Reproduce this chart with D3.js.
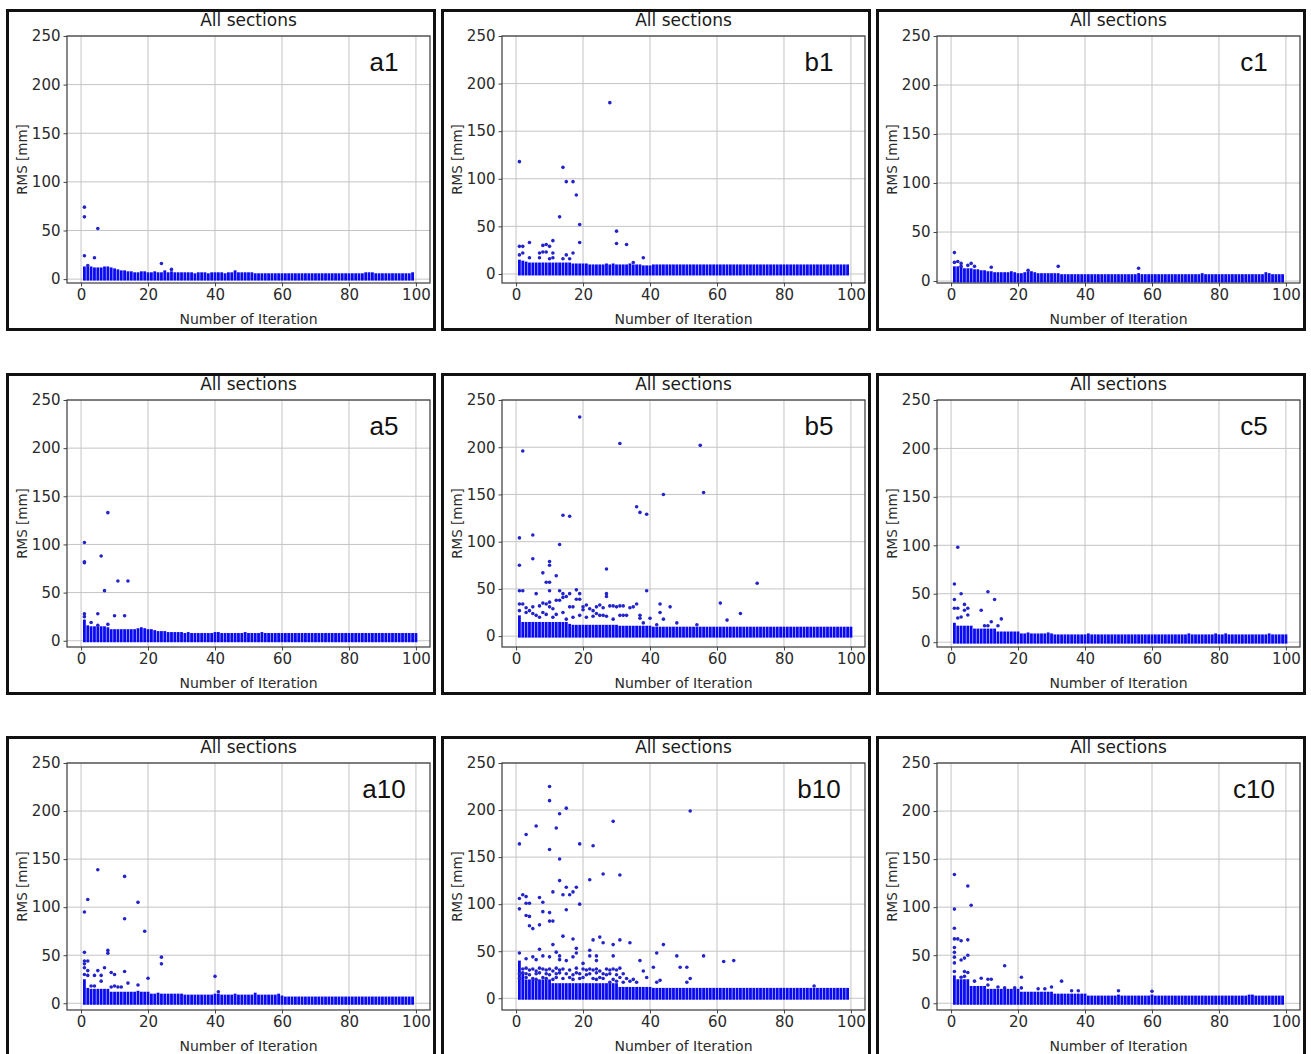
<!DOCTYPE html>
<html>
<head>
<meta charset="utf-8">
<script src="https://cdn.jsdelivr.net/npm/d3@7"></script>
<style>
body { margin: 0; background: #fff; }
text { font-family: "DejaVu Sans", sans-serif; }
</style>
</head>
<body>
<div id="chart"></div>
<script>
var xTicks = [0, 20, 40, 60, 80, 100];
var yTicks = [0, 50, 100, 150, 200, 250];
var panelNames = ["a1", "b1", "c1", "a5", "b5", "c5", "a10", "b10", "c10"];
var panelTitle = "All sections";
var xLabel = "Number of Iteration";
var yLabel = "RMS [mm]";

// lower y limit of every panel (matplotlib autoscaled bottom)
var axisFloor = [-4, -9.5, -2, -6.5, -11.5, -5, -7, -12.5, -7];

// top of the dense point band for iteration 1, 2, 3, ...
var bandA1 = [13,13,13,12,12,12,13,13,12,11, 10,9,9,8,8,7,7,8,8,7, 7,8,7,7,9,7,8,7,7,7,
  7,7,7,6,7,7,7,6,7,7, 7,7,6,7,7,9,7,7,7,7, 7,6,6,6,6,6,6,6,6,6, 6,6,6,6,6,6,6,6,6,6,
  6,6,6,6,6,6,6,6,6,6, 6,6,6,6,7,7,7,6,6,6, 6,6,6,6,6,6,6,6,7];
var bandB1 = [15,14,13,12,12,12,12,12,12,12, 12,12,12,12,12,12,11,11,11,11, 11,10,10,10,10,10,11,10,11,10,
  10,10,10,11,10,10,10,9,9,9, 10,10,10,10,10,10,10,10,10,10, 10,10,10,10,10,10,10,10,10,10,
  10,10,10,10,10,10,10,10,10,10, 10,10,10,10,10,10,10,10,10,10, 10,10,10,10,10,10,10,10,10,10,
  10,10,10,10,10,10,10,10,10];
var bandC1 = [15,15,15,13,13,13,12,12,11,11, 10,10,9,9,9,9,9,10,9,8, 8,9,10,10,9,8,8,8,8,8,
  8,8,7,7,7,7,7,7,7,7, 7,7,7,7,7,7,7,7,7,7, 7,7,7,7,7,8,7,7,7,7, 7,7,7,7,7,7,7,7,7,7,
  7,7,7,7,8,7,7,7,7,7, 7,7,7,7,7,7,7,7,7,7, 7,7,7,9,8,7,7,7,7];
var bandA5 = [22,16,15,15,15,15,15,14,12,12, 12,12,12,12,12,12,13,14,13,12, 12,11,10,10,10,9,9,9,9,9,
  8,9,8,8,8,8,8,8,8,9, 9,8,8,8,8,8,8,8,9,8, 8,8,8,9,8,8,8,8,8,8, 8,8,8,8,8,8,8,8,8,8,
  8,8,8,8,8,8,8,8,8,8, 8,8,8,8,8,8,8,8,8,8, 8,8,8,8,8,8,8,8,8,8];
var bandB5 = [22,15,15,15,15,15,15,15,15,15, 15,15,15,15,15,13,12,12,12,12, 12,12,12,12,12,12,12,12,12,12,
  11,11,11,11,11,11,11,11,11,11, 10,10,10,10,10,10,10,10,10,10, 10,10,10,10,10,10,10,10,10,10,
  10,10,10,10,10,10,10,10,10,10, 10,10,10,10,10,10,10,10,10,10, 10,10,10,10,10,10,10,10,10,10,
  10,10,10,10,10,10,10,10,10,10];
var bandC5 = [20,17,17,17,17,17,14,14,14,14, 14,14,14,11,11,11,11,11,11,11, 9,9,10,9,9,9,9,9,10,9,
  8,8,8,8,8,8,8,8,8,8, 9,8,8,8,8,8,8,8,8,8, 8,8,8,8,8,8,8,8,8,8, 8,8,8,8,8,8,8,8,8,8,
  9,8,8,8,8,8,8,8,9,8, 8,9,8,8,8,8,8,8,8,8, 8,8,8,8,9,8,8,8,8,8];
var bandA10 = [25,16,15,15,15,15,15,15,12,12, 12,12,12,12,12,12,13,12,12,12, 10,10,11,10,10,10,10,10,10,10,
  9,9,9,9,9,9,9,9,9,10, 10,9,9,9,9,10,9,9,9,9, 9,11,9,9,9,9,9,9,10,8, 7,7,7,7,7,7,7,7,7,7,
  7,7,7,7,7,7,7,7,7,7, 7,7,7,7,7,7,7,7,7,7, 7,7,7,7,7,7,7,7,7];
var bandB10 = [40,28,20,20,20,20,20,20,20,20, 16,16,16,16,16,16,16,16,16,16, 16,16,16,16,16,16,16,16,16,16,
  12,12,12,12,12,12,12,12,12,12, 11,11,11,11,11,11,11,11,11,11, 11,11,11,11,11,11,11,11,11,11,
  11,11,11,11,11,11,11,11,11,11, 11,11,11,11,11,11,11,11,11,11, 11,11,11,11,11,11,11,11,11,11,
  11,11,11,11,11,11,11,11,11];
var bandC10 = [29,25,25,25,25,18,18,18,18,18, 15,15,15,15,15,15,15,15,15,15, 12,12,12,12,12,12,12,12,12,12,
  10,10,10,10,10,10,10,10,10,10, 8,8,8,8,8,8,8,8,8,9, 8,8,8,8,8,8,8,8,8,9, 8,8,8,8,8,8,8,8,8,8,
  8,8,8,8,8,8,8,8,8,8, 8,8,8,8,8,8,8,8,9,9, 8,8,8,8,8,8,8,8,8];

// scattered points above the band: [iteration, RMS]
var outA1 = [[1,74],[1,64],[1,24],[4,22],[5,52],[24,16],[27,10],[2,14]];
var outB1 = [[1,118],[14,112],[15,97],[17,97],[18,83],[13,60],[19,52],[19,33],[28,180],[30,45],[30,32],
  [33,31],[38,17],[1,29],[2,29],[1,20],[2,22],[4,33],[4,17],[7,22],[7,17],[8,30],[9,31],[8,23],[9,23],
  [10,29],[10,16],[11,35],[11,22],[11,17],[14,16],[15,20],[16,16],[17,22],[35,12]];
var outC1 = [[1,29],[2,20],[3,18],[1,19],[3,15],[5,16],[6,18],[7,15],[12,14],[32,15],[56,13],[23,11]];
var outA5 = [[8,133],[1,102],[1,82],[1,81],[6,88],[11,62],[14,62],[7,52],[5,28],[10,26],[13,26],
  [1,28],[1,25],[3,19],[5,16],[8,17]];
var outB5 = [[19,232],[2,196],[31,204],[55,202],[56,152],[44,150],[36,137],[37,131],[39,129],[14,128],
  [16,127],[1,104],[5,107],[13,97],[1,75],[5,82],[10,79],[10,75],[12,64],[8,67],[9,57],[10,57],[27,71],
  [72,56],[61,35],[63,17],[67,24],[39,48],[43,34],[43,25],[46,31],[44,18],[48,14],[40,19],
  [1,48],[2,48],[6,45],[10,48],[13,48],[14,45],[18,49],[19,45],[27,45],[27,42],[1,34],[2,34],[5,31],
  [7,32],[9,34],[10,31],[11,29],[12,38],[13,38],[14,41],[15,42],[16,31],[17,31],[18,39],[19,39],[20,31],
  [21,33],[22,29],[23,27],[24,24],[25,33],[26,22],[28,32],[29,32],[30,31],[31,32],[32,32],[31,22],[32,22],
  [33,22],[35,31],[36,34],[37,22],[37,19],[1,27],[3,25],[4,27],[5,24],[7,20],[8,25],[9,23],[11,20],
  [12,23],[14,25],[15,18],[17,20],[19,22],[21,20],[23,21],[25,22],[27,21],[29,18],[6,22],[8,35],[10,36],
  [3,30],[16,45],[20,28],[24,31],[26,30],[34,30],[38,14],[42,12],[54,12]];
var outC5 = [[2,98],[1,60],[1,44],[3,50],[11,52],[13,44],[1,35],[2,35],[4,39],[5,35],[4,33],[5,28],
  [9,33],[2,25],[3,26],[15,24],[12,21],[14,17],[11,17],[10,17]];
var outA10 = [[5,139],[13,132],[2,108],[17,105],[1,95],[13,88],[19,75],[8,55],[8,52],[1,53],[24,48],
  [24,41],[2,44],[1,44],[7,37],[5,34],[2,34],[9,32],[10,30],[13,33],[1,30],[4,29],[6,29],[6,23],[2,29],
  [20,26],[40,28],[14,21],[17,19],[9,17],[10,18],[11,17],[12,17],[4,18],[3,18],[41,12],[1,41],[1,37]];
var outB10 = [[10,225],[10,210],[13,196],[15,202],[6,183],[12,181],[3,174],[1,164],[10,158],[19,164],
  [23,162],[29,188],[52,199],[13,148],[22,126],[26,132],[31,131],[13,125],[15,118],[18,118],[11,113],
  [17,113],[14,110],[16,110],[15,94],[1,106],[1,95],[2,110],[3,108],[3,101],[4,101],[3,88],[4,87],[4,77],
  [5,74],[7,78],[7,107],[8,102],[8,92],[10,91],[10,82],[11,82],[19,100],[14,66],[17,63],[11,57],[23,62],
  [25,65],[26,59],[29,57],[31,62],[34,59],[44,57],[42,48],[48,45],[56,45],[62,39],[65,40],[49,33],
  [51,33],[52,21],[51,17],[42,17],[43,19],[39,22],[41,33],[37,40],[38,29],[89,13],
  [1,48],[7,52],[5,44],[6,41],[8,45],[10,44],[12,49],[13,45],[13,41],[15,40],[18,53],[18,48],[17,44],
  [22,51],[22,45],[24,45],[29,45],[24,40],[20,37],[3,42],
  [2,31],[3,32],[4,30],[5,31],[6,29],[7,32],[8,31],[9,30],[10,31],[11,29],[12,32],[13,30],[14,31],[16,30],
  [18,32],[20,31],[21,30],[22,31],[23,30],[24,31],[25,29],[27,31],[28,30],[29,31],[30,30],[31,32],
  [1,26],[2,27],[3,26],[4,25],[6,26],[7,27],[9,26],[10,25],[12,26],[13,27],[15,26],[17,25],[18,27],
  [19,26],[21,25],[22,26],[24,27],[26,26],[27,25],[28,26],[30,25],[32,26],
  [1,21],[3,22],[5,21],[6,20],[8,22],[9,21],[11,20],[12,22],[14,21],[16,22],[17,20],[19,21],[20,22],
  [23,21],[24,20],[25,22],[26,21],[29,20],[31,22],[33,21],[35,20],[28,17],[30,18],[32,17],[34,18],[36,17]];
var outC10 = [[1,134],[5,122],[6,102],[1,98],[1,78],[1,67],[2,67],[3,65],[5,66],[1,58],[1,53],[1,48],
  [5,50],[4,47],[3,45],[1,42],[1,33],[4,33],[5,32],[3,27],[4,28],[16,39],[21,27],[9,26],[11,25],[12,25],
  [7,23],[33,23],[11,19],[14,17],[16,16],[19,16],[21,16],[26,15],[28,15],[30,17],[36,13],[38,13],[50,13],
  [60,12.5]];

var bands = [bandA1, bandB1, bandC1, bandA5, bandB5, bandC5, bandA10, bandB10, bandC10];
var outs = [outA1, outB1, outC1, outA5, outB5, outC5, outA10, outB10, outC10];

var colX = [6, 441, 876],
    rowY = [9, 373, 736],
    frameW = 430,
    frameH = 322,
    margin = { left: 61, right: 424, top: 27, bottom: 274 };

var svg = d3.select("#chart").append("svg")
    .attr("width", 1311)
    .attr("height", 1054);

panelNames.forEach(function (name, i) {
    var g = svg.append("g")
        .attr("transform", "translate(" + colX[i % 3] + "," + rowY[Math.floor(i / 3)] + ")");

    var x = d3.scaleLinear()
        .domain([-4.2, 104.2])
        .range([margin.left, margin.right]);

    var y = d3.scaleLinear()
        .domain([axisFloor[i], 250])
        .range([margin.bottom, margin.top]);

    // grid
    g.append("g").selectAll("line")
        .data(xTicks)
        .enter()
        .append("line")
        .attr("x1", function (d) { return x(d); })
        .attr("x2", function (d) { return x(d); })
        .attr("y1", margin.top)
        .attr("y2", margin.bottom)
        .attr("stroke", "#c4c4c4")
        .attr("stroke-width", 1);

    g.append("g").selectAll("line")
        .data(yTicks)
        .enter()
        .append("line")
        .attr("x1", margin.left)
        .attr("x2", margin.right)
        .attr("y1", function (d) { return y(d); })
        .attr("y2", function (d) { return y(d); })
        .attr("stroke", "#c4c4c4")
        .attr("stroke-width", 1);

    // dense band of points near zero
    g.append("g").selectAll("rect")
        .data(bands[i])
        .enter()
        .append("rect")
        .attr("x", function (d, j) { return x(j + 1) - 1.4; })
        .attr("width", 2.8)
        .attr("y", function (d) { return y(d); })
        .attr("height", function (d) { return y(0) + 1.5 - y(d); })
        .attr("fill", "#0a0af2");

    // scattered points
    g.append("g").selectAll("circle")
        .data(outs[i])
        .enter()
        .append("circle")
        .attr("cx", function (d) { return x(d[0]); })
        .attr("cy", function (d) { return y(d[1]); })
        .attr("r", 1.8)
        .attr("fill", "#2323cc");

    // axes
    var xAxis = d3.axisBottom(x)
        .tickValues(xTicks)
        .tickSize(3.5)
        .tickPadding(3);

    var yAxis = d3.axisLeft(y)
        .tickValues(yTicks)
        .tickSize(3.5)
        .tickPadding(3);

    var gx = g.append("g")
        .attr("transform", "translate(0," + margin.bottom + ")")
        .call(xAxis);
    var gy = g.append("g")
        .attr("transform", "translate(" + margin.left + ",0)")
        .call(yAxis);

    [gx, gy].forEach(function (a) {
        a.select(".domain").remove();
        a.selectAll("line").attr("stroke", "#444");
        a.selectAll("text")
            .attr("fill", "#2a2a2a")
            .style("font-size", "15px")
            .style("font-family", "DejaVu Sans");
    });

    // axes box
    g.append("rect")
        .attr("x", margin.left)
        .attr("y", margin.top)
        .attr("width", margin.right - margin.left)
        .attr("height", margin.bottom - margin.top)
        .attr("fill", "none")
        .attr("stroke", "#3a3a3a")
        .attr("stroke-width", 1.2);

    g.append("text")
        .attr("x", (margin.left + margin.right) / 2)
        .attr("y", 17)
        .attr("text-anchor", "middle")
        .style("font-size", "17px")
        .attr("fill", "#1a1a1a")
        .text(panelTitle);

    g.append("text")
        .attr("x", (margin.left + margin.right) / 2)
        .attr("y", 315)
        .attr("text-anchor", "middle")
        .style("font-size", "14px")
        .attr("fill", "#2a2a2a")
        .text(xLabel);

    g.append("text")
        .attr("transform", "translate(16," + ((margin.top + margin.bottom) / 2) + ") rotate(-90)")
        .attr("text-anchor", "middle")
        .attr("dy", "0.35em")
        .style("font-size", "13.5px")
        .attr("fill", "#2a2a2a")
        .text(yLabel);

    g.append("text")
        .attr("x", 378)
        .attr("y", 62)
        .attr("text-anchor", "middle")
        .style("font-family", "Liberation Sans, Arial, sans-serif")
        .style("font-size", "26px")
        .attr("fill", "#111")
        .text(name);

    // outer frame
    g.append("rect")
        .attr("x", 1.5)
        .attr("y", 1.5)
        .attr("width", frameW - 3)
        .attr("height", frameH - 3)
        .attr("fill", "none")
        .attr("stroke", "#111")
        .attr("stroke-width", 3);
});
</script>
</body>
</html>
